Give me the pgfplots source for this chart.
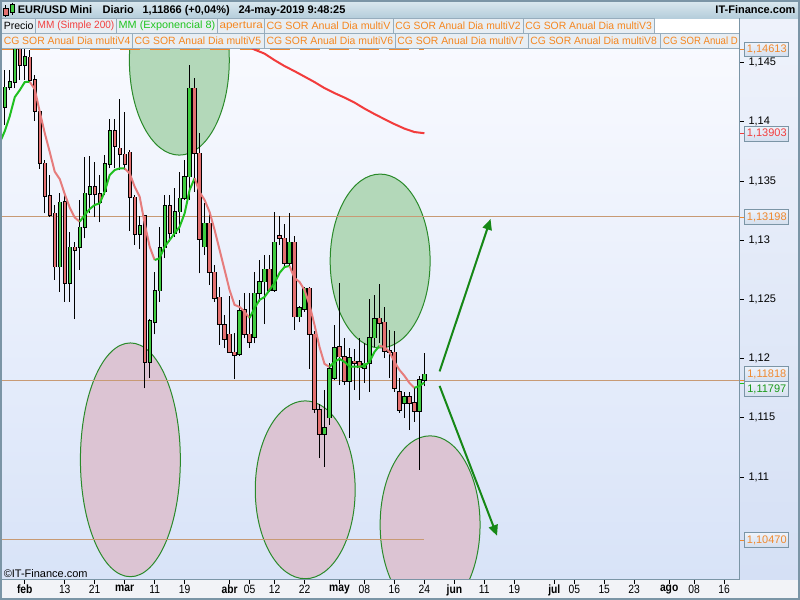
\documentclass[border=0pt]{standalone}
\usepackage{graphicx}
\usepackage{pgfplots}
\usepackage{pgfplotstable}
\pgfplotsset{compat=1.18}
\usepackage{fontspec}
\setmainfont{Liberation Sans}
\usetikzlibrary{arrows.meta}

\definecolor{frameclr}{HTML}{7B95A6}
\definecolor{candleG}{HTML}{40CC40}
\definecolor{candleR}{HTML}{E37070}
\definecolor{emaG}{HTML}{1FC01F}
\definecolor{emaR}{HTML}{E67C7C}
\definecolor{smaR}{HTML}{F23C3C}
\definecolor{lvl}{HTML}{F0892E}
\definecolor{lvlLine}{HTML}{C89A74}
\definecolor{ellG}{HTML}{B3D8B9}
\definecolor{ellP}{HTML}{DCC4D3}
\definecolor{ellLine}{HTML}{2A8A2A}
\definecolor{arrG}{HTML}{168816}
\definecolor{legOr}{HTML}{F5861F}
\definecolor{legRd}{HTML}{F23F3F}
\definecolor{legGr}{HTML}{1FC41F}
\definecolor{boxFill}{HTML}{E8EEF3}
\definecolor{boxLine}{HTML}{97ADBD}
\definecolor{plotTop}{HTML}{FAFBFF}
\definecolor{plotBot}{HTML}{D8E3F8}
\definecolor{panelTop}{HTML}{EEF2FB}
\definecolor{panelBot}{HTML}{D5E0F5}
\definecolor{stripclr}{HTML}{F2F3F7}
\definecolor{titleTop}{HTML}{D9E7EE}
\definecolor{titleBot}{HTML}{B3CCDA}
\definecolor{valTop}{HTML}{EEF3FB}
\definecolor{valBot}{HTML}{D3DEEE}

% x = trading-day index (0 = 1 Feb 2019), o h l c = EUR/USD daily prices
\pgfplotstableread{
x o h l c
-4 1.14121 1.14436 1.13972 1.14290
-3 1.14290 1.14436 1.14267 1.14337
-2 1.14337 1.14900 1.14281 1.14760
0 1.14478 1.14700 1.14352 1.14549
7 1.12776 1.13395 1.12565 1.13319
9 1.12636 1.13072 1.12481 1.12939
11 1.12939 1.13339 1.12748 1.13108
12 1.13108 1.13704 1.13015 1.13395
13 1.13389 1.13710 1.13226 1.13451
16 1.13409 1.13719 1.13381 1.13643
17 1.13643 1.14022 1.13606 1.13924
23 1.13052 1.13207 1.12925 1.13122
25 1.11969 1.12330 1.11834 1.12318
26 1.12306 1.12734 1.12205 1.12574
27 1.12574 1.13114 1.12481 1.12937
28 1.12937 1.13381 1.12847 1.13291
30 1.13058 1.13437 1.13029 1.13240
31 1.13240 1.13578 1.13058 1.13353
32 1.13353 1.13676 1.13339 1.13536
33 1.13536 1.14478 1.13339 1.14281
36 1.12945 1.13311 1.12875 1.13142
43 1.12036 1.12495 1.12025 1.12405
46 1.12180 1.12734 1.12129 1.12551
47 1.12551 1.12832 1.12481 1.12650
48 1.12650 1.12875 1.12290 1.12754
50 1.12579 1.13235 1.12565 1.12982
53 1.12804 1.13226 1.12776 1.12982
55 1.12354 1.12440 1.12312 1.12425
56 1.12419 1.12607 1.12397 1.12593
60 1.11361 1.11735 1.11088 1.11412
61 1.11502 1.11960 1.11440 1.11913
62 1.11834 1.12284 1.11820 1.12093
65 1.11811 1.12087 1.11333 1.12008
68 1.11918 1.12129 1.11792 1.11960
69 1.11960 1.12501 1.11721 1.12177
70 1.12177 1.12537 1.12101 1.12332
76 1.11623 1.11721 1.11496 1.11674
79 1.11558 1.11850 1.11060 1.11820
80 1.11818 1.12045 1.11764 1.11866
}\greenc

\pgfplotstableread{
x o h l c
-1 1.14760 1.14900 1.14352 1.14478
1 1.14543 1.14605 1.14323 1.14352
2 1.14352 1.14394 1.14006 1.14090
3 1.14084 1.14090 1.13601 1.13648
4 1.13648 1.13677 1.13226 1.13373
5 1.13373 1.13553 1.13198 1.13212
6 1.13226 1.13297 1.12664 1.12776
8 1.13325 1.13409 1.12481 1.12636
10 1.12939 1.12987 1.12332 1.12917
14 1.13451 1.13662 1.13198 1.13389
15 1.13389 1.13550 1.13150 1.13319
18 1.13924 1.14022 1.13606 1.13794
19 1.13775 1.14191 1.13592 1.13724
20 1.13724 1.14079 1.13592 1.13643
21 1.13741 1.13761 1.13080 1.13361
22 1.13361 1.13381 1.12959 1.13052
24 1.13204 1.13207 1.11749 1.11969
29 1.13291 1.13381 1.12987 1.13058
34 1.14281 1.14366 1.13409 1.13733
35 1.13733 1.13901 1.12720 1.13010
37 1.13142 1.13254 1.12622 1.12728
38 1.12728 1.12790 1.12481 1.12509
39 1.12517 1.12602 1.12115 1.12290
40 1.12284 1.12368 1.12087 1.12163
41 1.12205 1.12531 1.12045 1.12053
42 1.12053 1.12214 1.11825 1.12031
44 1.12411 1.12551 1.12171 1.12205
45 1.12205 1.12551 1.12087 1.12138
49 1.12754 1.12875 1.12565 1.12579
51 1.13038 1.13204 1.12959 1.13015
52 1.13015 1.13136 1.12776 1.12804
54 1.12982 1.13035 1.12242 1.12354
57 1.12593 1.12602 1.11913 1.12205
58 1.12205 1.12233 1.11539 1.11572
59 1.11567 1.11614 1.11159 1.11361
63 1.12101 1.12636 1.11778 1.12017
64 1.12017 1.12177 1.11778 1.11811
66 1.11975 1.12081 1.11735 1.11960
67 1.11969 1.12171 1.11651 1.11924
71 1.12340 1.12630 1.12129 1.12298
72 1.12306 1.12439 1.12003 1.12065
73 1.12065 1.12242 1.11834 1.12053
74 1.12053 1.12233 1.11721 1.11749
75 1.11721 1.11834 1.11539 1.11567
77 1.11674 1.11721 1.11398 1.11623
78 1.11623 1.11749 1.11468 1.11558
}\redc

\newcommand\N[1]{\scalebox{0.86}[1]{#1}}
\newcommand\fitw[2]{\resizebox{#1}{\height}{#2}}
\newcommand\legfont{\fontsize{7.9}{9}\selectfont}
\newcommand\valfont{\fontsize{8.25}{9}\selectfont}

\pgfplotsset{
  wick/.style={draw=none, mark=none, forget plot,
    error bars/.cd, y dir=plus, y explicit, error mark=none,
    error bar style={draw=black, line width=0.75pt}},
  bodyout/.style={draw=none, mark=none, forget plot,
    error bars/.cd, y dir=plus, y explicit, error mark=none,
    error bar style={draw=black, line width=3.2pt, shorten <=-0.55pt, shorten >=-0.55pt}},
  bodyin/.style={draw=none, mark=none, forget plot,
    error bars/.cd, y dir=plus, y explicit, error mark=none,
    error bar style={draw=#1, line width=1.7pt}},
}

\begin{document}
\begin{tikzpicture}
\begin{scope}[x=0.75pt,y=-0.75pt]
  \fill[frameclr] (0,0) rectangle (800,600);
  \shade[top color=plotTop, bottom color=plotBot] (1.5,18) rectangle (740,580);
  \shade[top color=panelTop, bottom color=panelBot] (740,18) rectangle (798.5,580);
  \fill[stripclr] (1.5,580) rectangle (798.5,598.5);
  \begin{scope}
    \clip (1.5,48) rectangle (740,580);
    \filldraw[draw=ellLine, fill=ellG, line width=0.75pt] (179,60) ellipse [x radius=50, y radius=95];
    \filldraw[draw=ellLine, fill=ellG, line width=0.75pt] (380,261) ellipse [x radius=50, y radius=87];
    \filldraw[draw=ellLine, fill=ellP, line width=0.75pt] (130,460) ellipse [x radius=50, y radius=117];
    \filldraw[draw=ellLine, fill=ellP, line width=0.75pt] (305,490) ellipse [x radius=50, y radius=89];
    \filldraw[draw=ellLine, fill=ellP, line width=0.75pt] (430,525) ellipse [x radius=50, y radius=89];
  \end{scope}
\end{scope}

\begin{axis}[
  at={(0pt,-435pt)}, anchor=south west,
  scale only axis, width=555pt, height=399pt,
  xmin=-4.86, xmax=143.14, ymin=1.10132, ymax=1.14621,
  axis line style={frameclr, line width=0.75pt},
  tick align=outside, major tick length=3pt,
  xtick pos=left, ytick pos=right, yticklabel pos=right,
  tick style={black, line width=0.6pt},
  xtick={0,8,14,20,26,32,41,45,50,56,63,68,74,80,86,92,98,106,110,116,122,129,134,140},
  xticklabels={\N{\textbf{feb}},\N{13},\N{21},\N{\textbf{mar}},\N{11},\N{19},\N{\textbf{abr}},\N{05},\N{12},\N{22},\N{\textbf{may}},\N{08},\N{16},\N{24},\N{\textbf{jun}},\N{11},\N{19},\N{\textbf{jul}},\N{05},\N{15},\N{23},\N{\textbf{ago}},\N{08},\N{16}},
  xticklabel style={font=\fontsize{9}{10}\selectfont, inner sep=0.6pt},
  ytick={1.11,1.115,1.12,1.125,1.13,1.135,1.14,1.145},
  yticklabel style={font=\fontsize{8.25}{9}\selectfont, /pgf/number format/.cd, fixed, precision=3, use comma, assume math mode=true},
  clip=true,
]
% level lines
\addplot[lvlLine, line width=0.6pt, forget plot] coordinates {(-5,1.13198) (144,1.13198)};
\addplot[lvlLine, line width=0.6pt, forget plot] coordinates {(-5,1.11818) (144,1.11818)};
\addplot[lvlLine, line width=0.6pt, forget plot] coordinates {(-5,1.10470) (80,1.10470)};
\addplot[lvl, line width=1.1pt, dash pattern=on 15pt off 7.5pt, forget plot] coordinates {(-5,1.14613) (80,1.14613)};
% SMA 200
\addplot[smaR, line width=1.5pt, forget plot] coordinates {
(45,1.14630) (46,1.14609) (48,1.14575) (50,1.14520) (52,1.14470) (54,1.14427) (56,1.14381)
(58,1.14335) (60,1.14284) (62,1.14242) (64,1.14204) (66,1.14162) (68,1.14111) (70,1.14065)
(72,1.14022) (74,1.13980) (76,1.13942) (78,1.13913) (80,1.13903)};
% candles: wicks
\addplot[wick] table[x=x, y=l, y error plus expr=\thisrow{h}-\thisrow{l}] {\greenc};
\addplot[wick] table[x=x, y=l, y error plus expr=\thisrow{h}-\thisrow{l}] {\redc};
% bodies
\addplot[bodyout] table[x=x, y=o, y error plus expr=\thisrow{c}-\thisrow{o}] {\greenc};
\addplot[bodyin=candleG] table[x=x, y=o, y error plus expr=\thisrow{c}-\thisrow{o}] {\greenc};
\addplot[bodyout] table[x=x, y=c, y error plus expr=\thisrow{o}-\thisrow{c}] {\redc};
\addplot[bodyin=candleR] table[x=x, y=c, y error plus expr=\thisrow{o}-\thisrow{c}] {\redc};
% EMA 8, green when rising, salmon when falling
\addplot[emaG, line width=1.5pt, forget plot] coordinates {(-4.86,1.13837) (-4,1.13921) (-3,1.14048) (-2,1.14208) (-1,1.14267) (0,1.14335) (1,1.14337)};
\addplot[emaR, line width=1.5pt, forget plot] coordinates {(1,1.14337) (2,1.14275) (3,1.14084) (4,1.13904) (5,1.13744) (6,1.13578) (7,1.13516) (8,1.13389) (9,1.13275) (10,1.13191) (11,1.13156)};
\addplot[emaG, line width=1.5pt, forget plot] coordinates {(11,1.13156) (12,1.13212) (13,1.13263) (14,1.13297) (15,1.13311) (16,1.13409) (17,1.13550) (18,1.13592) (19,1.13606) (20,1.13606)};
\addplot[emaR, line width=1.5pt, forget plot] coordinates {(20,1.13606) (21,1.13564) (22,1.13451) (23,1.13367) (24,1.13142) (25,1.12945) (26,1.12832)};
\addplot[emaG, line width=1.5pt, forget plot] coordinates {(26,1.12832) (27,1.12847) (28,1.12945) (29,1.13001) (30,1.13058) (31,1.13113) (32,1.13226) (33,1.13423) (34,1.13524)};
\addplot[emaR, line width=1.5pt, forget plot] coordinates {(34,1.13524) (35,1.13406) (36,1.13339) (37,1.13237) (38,1.13086) (39,1.12917) (40,1.12748) (41,1.12579) (42,1.12453) (43,1.12436) (44,1.12394) (45,1.12343)};
\addplot[emaG, line width=1.5pt, forget plot] coordinates {(45,1.12343) (46,1.12427) (47,1.12495) (48,1.12520) (49,1.12579) (50,1.12638) (51,1.12723) (52,1.12773) (53,1.12782)};
\addplot[emaR, line width=1.5pt, forget plot] coordinates {(53,1.12782) (54,1.12680) (55,1.12647) (56,1.12579) (57,1.12453) (58,1.12284) (59,1.12098) (60,1.11955) (61,1.11929)};
\addplot[emaG, line width=1.5pt, forget plot] coordinates {(61,1.11929) (62,1.11972) (63,1.11997) (64,1.11972) (65,1.11932) (66,1.11932) (67,1.11932) (68,1.11938) (69,1.11972) (70,1.12056) (71,1.12107)};
\addplot[emaR, line width=1.5pt, forget plot] coordinates {(71,1.12107) (72,1.12098) (73,1.12056) (74,1.11972) (75,1.11904) (76,1.11854) (77,1.11794) (78,1.11752)};
\addplot[emaG, line width=1.5pt, forget plot] coordinates {(78,1.11752) (79,1.11769) (80,1.11797)};
\end{axis}

\begin{scope}[x=0.75pt,y=-0.75pt]
  % arrows
  \draw[arrG, line width=1.5pt, -{Triangle[length=8pt, width=7pt]}] (439.5,371.5) -- (490.5,219);
  \draw[arrG, line width=1.5pt, -{Triangle[length=8pt, width=7pt]}] (439.5,386) -- (497,536);
  % copyright
  \node[anchor=base west, inner sep=0, font=\fontsize{8.25}{9}\selectfont] at (3,578) {©IT-Finance.com};
  % title bar
  \shade[top color=titleTop, bottom color=titleBot] (1.5,1.5) rectangle (798.5,18.5);
  \draw[black, line width=0.5pt] (5,5) -- (5,17);
  \filldraw[fill=candleR, draw=black, line width=0.5pt] (3,8.5) rectangle (7.5,15);
  \draw[black, line width=0.5pt] (11.5,2.5) -- (11.5,15);
  \filldraw[fill=candleG, draw=black, line width=0.5pt] (9.5,4) rectangle (14,12);
  \begin{scope}[every node/.style={anchor=base west, inner sep=0, font=\fontsize{8.25}{9}\selectfont\bfseries}]
    \node at (17,13.5) {EUR/USD Mini};
    \node at (102,13.5) {Diario};
    \node at (142,13.5) {1,11866 (+0,04\%)};
    \node at (238,13.5) {24-may-2019 9:48:25};
    \node[anchor=base east] at (796,13.5) {IT-Finance.com};
  \end{scope}
  % legend rows
  \fill[white] (1.5,18.5) rectangle (740,48);
  \begin{scope}[every node/.style={anchor=west, inner sep=0, font=\legfont}]
    \filldraw[draw=boxLine, fill=boxFill, line width=0.75pt] (1.5,18.5) rectangle (35,33);
    \node[text=black] at (3,26) {Precio};
    \filldraw[draw=boxLine, fill=boxFill, line width=0.75pt] (35,18.5) rectangle (116,33);
    \node[text=legRd] at (37,26) {\fitw{57.5pt}{MM (Simple 200)}};
    \filldraw[draw=boxLine, fill=boxFill, line width=0.75pt] (116,18.5) rectangle (217,33);
    \node[text=legGr] at (118,26) {\fitw{72.5pt}{MM (Exponencial 8)}};
    \filldraw[draw=boxLine, fill=boxFill, line width=0.75pt] (217,18.5) rectangle (264,33);
    \node[text=legOr] at (219,26) {\fitw{32.5pt}{apertura}};
    \filldraw[draw=boxLine, fill=boxFill, line width=0.75pt] (264,18.5) rectangle (393,33);
    \node[text=legOr] at (266,26) {\fitw{93pt}{CG SOR Anual Dia multiV}};
    \filldraw[draw=boxLine, fill=boxFill, line width=0.75pt] (393,18.5) rectangle (523,33);
    \node[text=legOr] at (395,26) {\fitw{94pt}{CG SOR Anual Dia multiV2}};
    \filldraw[draw=boxLine, fill=boxFill, line width=0.75pt] (523,18.5) rectangle (655,33);
    \node[text=legOr] at (525,26) {\fitw{95pt}{CG SOR Anual Dia multiV3}};
    \filldraw[draw=boxLine, fill=boxFill, line width=0.75pt] (1.5,33) rectangle (132,48);
    \node[text=legOr] at (3,40.5) {\fitw{95pt}{CG SOR Anual Dia multiV4}};
    \filldraw[draw=boxLine, fill=boxFill, line width=0.75pt] (132,33) rectangle (264,48);
    \node[text=legOr] at (134,40.5) {\fitw{95pt}{CG SOR Anual Dia multiV5}};
    \filldraw[draw=boxLine, fill=boxFill, line width=0.75pt] (264,33) rectangle (395,48);
    \node[text=legOr] at (266,40.5) {\fitw{95pt}{CG SOR Anual Dia multiV6}};
    \filldraw[draw=boxLine, fill=boxFill, line width=0.75pt] (395,33) rectangle (528,48);
    \node[text=legOr] at (397,40.5) {\fitw{95pt}{CG SOR Anual Dia multiV7}};
    \filldraw[draw=boxLine, fill=boxFill, line width=0.75pt] (528,33) rectangle (661,48);
    \node[text=legOr] at (530,40.5) {\fitw{95pt}{CG SOR Anual Dia multiV8}};
    \filldraw[draw=boxLine, fill=boxFill, line width=0.75pt] (661,33) rectangle (740,48);
    \node[text=legOr] at (663,40.5) {\fitw{56pt}{CG SOR Anual D}};
  \end{scope}
  % right value boxes
  \begin{scope}[every node/.style={inner sep=0, font=\valfont}]
    \draw[lvl, line width=0.75pt] (740,49) -- (745,49);
    \shade[top color=valTop, bottom color=valBot, draw=frameclr, line width=0.75pt] (745,42) rectangle (789,56.5);
    \node[text=lvl] at (767,49.3) {1,14613};
    \draw[smaR, line width=0.75pt] (740,133) -- (745,133);
    \shade[top color=valTop, bottom color=valBot, draw=frameclr, line width=0.75pt] (745,126) rectangle (789,141);
    \node[text=smaR] at (767,133.5) {1,13903};
    \draw[lvl, line width=0.75pt] (740,217) -- (745,217);
    \shade[top color=valTop, bottom color=valBot, draw=frameclr, line width=0.75pt] (745,209.5) rectangle (789,224.5);
    \node[text=lvl] at (767,217) {1,13198};
    \draw[lvl, line width=0.75pt] (740,381) -- (745,381);
    \shade[top color=valTop, bottom color=valBot, draw=frameclr, line width=0.75pt] (745,367) rectangle (789,382);
    \node[text=lvl] at (767,374.5) {1,11818};
    \draw[emaG, line width=0.75pt] (740,383.5) -- (745,383.5);
    \shade[top color=valTop, bottom color=valBot, draw=frameclr, line width=0.75pt] (745,382) rectangle (789,397);
    \node[text=emaG!80!black] at (767,389.5) {1,11797};
    \draw[lvl, line width=0.75pt] (740,541) -- (745,541);
    \shade[top color=valTop, bottom color=valBot, draw=frameclr, line width=0.75pt] (745,533) rectangle (789,548);
    \node[text=lvl] at (767,540.5) {1,10470};
  \end{scope}
  % frame
  \draw[frameclr, line width=1.5pt] (0.75,0.75) rectangle (799.25,599.25);
  \draw[frameclr, line width=0.75pt] (740,18) -- (740,580);
\end{scope}
\end{tikzpicture}
\end{document}
